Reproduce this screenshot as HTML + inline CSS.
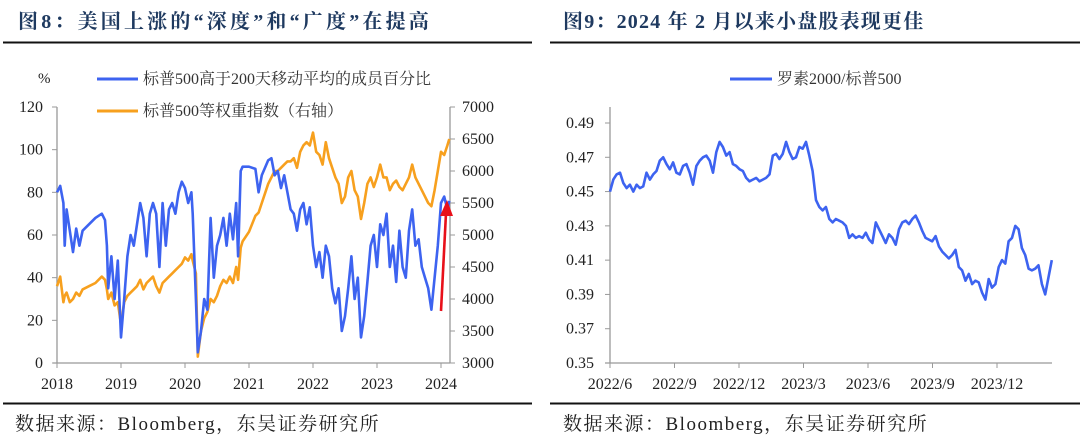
<!DOCTYPE html>
<html><head><meta charset="utf-8">
<style>
body{margin:0;width:1080px;height:440px;background:#fff;overflow:hidden;font-family:"Liberation Serif","Noto Serif CJK SC",serif;}
svg{position:absolute;left:0;top:0}
</style></head>
<body>
<svg width="1080" height="440">
<g id="left"></g>
<g id="right"></g>
</svg>
<script>
// ---------- Left chart data ----------
const leftYears = [2018.0,2018.05,2018.1,2018.12,2018.15,2018.2,2018.25,2018.3,2018.35,2018.4,2018.5,2018.6,2018.7,2018.75,2018.78,2018.8,2018.85,2018.9,2018.95,2019.0,2019.05,2019.1,2019.15,2019.2,2019.25,2019.3,2019.35,2019.4,2019.45,2019.5,2019.55,2019.6,2019.65,2019.7,2019.75,2019.8,2019.85,2019.9,2019.95,2020.0,2020.05,2020.1,2020.12,2020.17,2020.2,2020.25,2020.3,2020.35,2020.4,2020.45,2020.5,2020.55,2020.6,2020.65,2020.7,2020.75,2020.8,2020.83,2020.87,2020.9,2021.0,2021.1,2021.15,2021.2,2021.3,2021.35,2021.4,2021.45,2021.5,2021.55,2021.6,2021.65,2021.7,2021.75,2021.8,2021.85,2021.9,2021.95,2022.0,2022.05,2022.1,2022.15,2022.2,2022.25,2022.3,2022.35,2022.4,2022.45,2022.5,2022.55,2022.6,2022.65,2022.7,2022.75,2022.8,2022.85,2022.9,2022.95,2023.0,2023.05,2023.1,2023.15,2023.2,2023.25,2023.3,2023.35,2023.4,2023.45,2023.5,2023.55,2023.6,2023.65,2023.7,2023.75,2023.8,2023.85,2023.9,2023.95,2024.0,2024.05,2024.1,2024.13];
const breadthPct = [80,83,75,55,72,62,52,63,55,62,65,68,70,67,55,35,50,30,48,12,30,50,60,55,65,75,68,50,70,75,70,45,75,55,72,75,70,80,85,82,75,80,70,30,5,15,30,25,68,40,55,60,68,55,70,58,75,50,90,92,92,91,80,88,95,96,88,90,82,88,80,72,70,62,72,75,65,73,55,45,52,40,55,50,35,28,35,15,22,35,50,30,40,12,22,38,55,60,45,65,60,70,45,55,38,62,45,40,62,72,55,58,45,40,35,25,40,55,75,78,72,76];
const equalWeightIdx = [4200,4350,3950,4050,4100,3950,4000,4100,4050,4150,4200,4250,4350,4300,4150,4000,4100,3900,3950,3600,3950,4050,4100,4150,4200,4300,4150,4250,4300,4350,4200,4100,4250,4300,4350,4400,4450,4500,4550,4650,4600,4700,4600,4400,3100,3500,3700,3800,4000,3950,4050,4200,4300,4250,4350,4250,4500,4300,4800,4900,5050,5300,5350,5500,5800,5900,6000,6000,6050,6100,6150,6150,6200,6050,6300,6400,6450,6400,6600,6300,6250,6100,6450,6200,6050,5900,5800,5500,5600,5900,6000,5700,5600,5250,5500,5800,5900,5750,5900,6100,5900,5900,5700,5800,5850,5750,5700,5800,5900,6100,5900,5800,5700,5600,5500,5450,5700,6000,6300,6250,6400,6500];
const leftYTicks = [0,20,40,60,80,100,120];
const rightYTicks = [3000,3500,4000,4500,5000,5500,6000,6500,7000];
const leftXTicks = [2018,2019,2020,2021,2022,2023,2024];

// ---------- Right chart data (evenly spaced observations from 2022-06-01 to ~2024-02-17) ----------
const ratioStartMonth = 0;      // months since 2022/6
const ratioEndMonth = 20.55;
const russellRatio = [0.450,0.457,0.460,0.461,0.455,0.452,0.454,0.450,0.454,0.452,0.453,0.461,0.457,0.460,0.462,0.468,0.470,0.466,0.463,0.467,0.461,0.460,0.465,0.466,0.461,0.454,0.465,0.468,0.470,0.471,0.468,0.461,0.473,0.479,0.476,0.471,0.473,0.466,0.465,0.463,0.462,0.458,0.456,0.457,0.458,0.456,0.457,0.458,0.460,0.471,0.472,0.469,0.472,0.479,0.473,0.469,0.470,0.476,0.475,0.479,0.471,0.462,0.445,0.441,0.439,0.441,0.434,0.432,0.434,0.433,0.432,0.430,0.423,0.425,0.423,0.424,0.423,0.426,0.422,0.420,0.432,0.428,0.424,0.420,0.425,0.423,0.419,0.428,0.432,0.433,0.431,0.434,0.436,0.432,0.427,0.423,0.422,0.421,0.424,0.418,0.415,0.413,0.411,0.413,0.416,0.406,0.404,0.398,0.402,0.396,0.398,0.397,0.391,0.387,0.399,0.394,0.396,0.406,0.410,0.408,0.421,0.423,0.430,0.428,0.417,0.413,0.405,0.404,0.405,0.407,0.396,0.390,0.400,0.410];
const ratioYTicks = [0.35,0.37,0.39,0.41,0.43,0.45,0.47,0.49];
const ratioXLabels = ["2022/6","2022/9","2022/12","2023/3","2023/6","2023/9","2023/12"];

const NS="http://www.w3.org/2000/svg";
function mk(parent,tag,attrs,text){const e=document.createElementNS(NS,tag);for(const k in attrs)e.setAttribute(k,attrs[k]);if(text!==undefined)e.textContent=text;parent.appendChild(e);return e;}

// ---------- Left chart ----------
const L=document.getElementById('left');
const lx=y=>57+(y-2018)*64;
const ly=v=>363-v*(256/120);
const ry=v=>363-(v-3000)*(256/4000);
let t=mk(L,'text',{x:18,y:28,'font-size':20,'font-weight':'bold',fill:'#1f3a60','letter-spacing':'3.2'},'图8：美国上涨的“深度”和“广度”在提高');

let e=mk(L,'line',{x1:3,x2:532,y1:42.5,y2:42.5,stroke:'#111','stroke-width':2});

e=mk(L,'line',{x1:3,x2:532,y1:403.5,y2:403.5,stroke:'#111','stroke-width':2});

t=mk(L,'text',{x:15,y:430,'font-size':19,fill:'#222','letter-spacing':'1.5'},'数据来源：Bloomberg，东吴证券研究所');

// axes
e=mk(L,'line',{x1:57,x2:57,y1:107,y2:363,stroke:'#999','stroke-width':1.3});

e=mk(L,'line',{x1:450,x2:450,y1:107,y2:363,stroke:'#999','stroke-width':1.3});

e=mk(L,'line',{x1:53,x2:450,y1:363,y2:363,stroke:'#999','stroke-width':1.3});

leftYTicks.forEach(v=>{
  mk(L,'line',{x1:52,x2:57,y1:ly(v),y2:ly(v),stroke:'#999'});
  const tt=mk(L,'text',{x:43,y:ly(v)+5,'font-size':16,'text-anchor':'end',fill:'#222'},String(v));
  
});
rightYTicks.forEach(v=>{
  mk(L,'line',{x1:450,x2:455,y1:ry(v),y2:ry(v),stroke:'#999'});
  const tt=mk(L,'text',{x:462,y:ry(v)+5,'font-size':16,fill:'#222'},String(v));
  
});
leftXTicks.forEach(v=>{
  mk(L,'line',{x1:lx(v),x2:lx(v),y1:363,y2:368,stroke:'#999'});
  const tt=mk(L,'text',{x:lx(v),y:389,'font-size':16,'text-anchor':'middle',fill:'#222'},String(v));
  
});
t=mk(L,'text',{x:38,y:83,'font-size':15,fill:'#222'},'%');

// legend
e=mk(L,'line',{x1:97,x2:138,y1:79,y2:79,stroke:'#3d63f0','stroke-width':3});

t=mk(L,'text',{x:143,y:84,'font-size':16,fill:'#333'},'标普500高于200天移动平均的成员百分比');

e=mk(L,'line',{x1:97,x2:138,y1:111,y2:111,stroke:'#f7a01e','stroke-width':3});

t=mk(L,'text',{x:143,y:116,'font-size':16,fill:'#333'},'标普500等权重指数（右轴）');

// series
let d=equalWeightIdx.map((v,i)=>(i?'L':'M')+lx(leftYears[i]).toFixed(1)+','+ry(v).toFixed(1)).join('');
e=mk(L,'path',{d:d,fill:'none',stroke:'#f7a01e','stroke-width':2.6,'stroke-linejoin':'round'});

d=breadthPct.map((v,i)=>(i?'L':'M')+lx(leftYears[i]).toFixed(1)+','+ly(v).toFixed(1)).join('');
e=mk(L,'path',{d:d,fill:'none',stroke:'#3d63f0','stroke-width':2.6,'stroke-linejoin':'round'});

// red arrow
e=mk(L,'line',{x1:441,y1:311,x2:446,y2:213,stroke:'#e8101a','stroke-width':2.6});

e=mk(L,'polygon',{points:'447,200 440,216 453,216',fill:'#e8101a'});


// ---------- Right chart ----------
const R=document.getElementById('right');
const rx=m=>610+m*(64.5/3);
const rY=v=>363-(v-0.35)*(240/0.14);
t=mk(R,'text',{x:563,y:28,'font-size':20,'font-weight':'bold',fill:'#1f3a60','letter-spacing':'1.2'},'图9：2024 年 2 月以来小盘股表现更佳');

e=mk(R,'line',{x1:550,x2:1080,y1:42.5,y2:42.5,stroke:'#111','stroke-width':2});

e=mk(R,'line',{x1:550,x2:1080,y1:403.5,y2:403.5,stroke:'#111','stroke-width':2});

t=mk(R,'text',{x:563,y:430,'font-size':19,fill:'#222','letter-spacing':'1.5'},'数据来源：Bloomberg，东吴证券研究所');

e=mk(R,'line',{x1:610,x2:610,y1:107,y2:363,stroke:'#999','stroke-width':1.3});

e=mk(R,'line',{x1:605,x2:1052,y1:363,y2:363,stroke:'#999','stroke-width':1.3});

ratioYTicks.forEach(v=>{
  mk(R,'line',{x1:605,x2:610,y1:rY(v),y2:rY(v),stroke:'#999'});
  const tt=mk(R,'text',{x:594,y:rY(v)+5,'font-size':16,'text-anchor':'end',fill:'#222'},v.toFixed(2));
  
});
ratioXLabels.forEach((s,i)=>{
  const m=i*3;
  mk(R,'line',{x1:rx(m),x2:rx(m),y1:363,y2:368,stroke:'#999'});
  const tt=mk(R,'text',{x:rx(m),y:389,'font-size':16,'text-anchor':'middle',fill:'#222'},s);
  
});
e=mk(R,'line',{x1:730,x2:772,y1:79,y2:79,stroke:'#3d63f0','stroke-width':3});

t=mk(R,'text',{x:777,y:84,'font-size':16,fill:'#333'},'罗素2000/标普500');

const n=russellRatio.length;
d=russellRatio.map((v,i)=>{const m=ratioStartMonth+(ratioEndMonth-ratioStartMonth)*i/(n-1);return (i?'L':'M')+rx(m).toFixed(1)+','+rY(v).toFixed(1);}).join('');
e=mk(R,'path',{d:d,fill:'none',stroke:'#3d63f0','stroke-width':2.6,'stroke-linejoin':'round'});

</script>
</body></html>
